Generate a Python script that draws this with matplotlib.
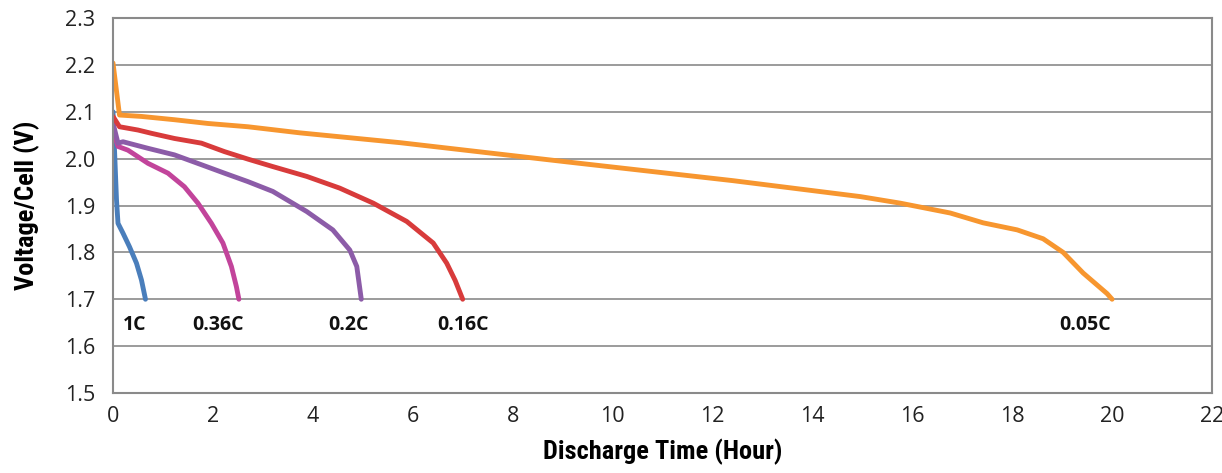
import matplotlib.pyplot as plt
from matplotlib import font_manager

# discharge curves (hours, volts per cell)
t_1c = [0.0, 0.07, 0.1, 0.2, 0.33, 0.47, 0.57, 0.65]
v_1c = [2.10, 1.912, 1.862, 1.841, 1.812, 1.777, 1.741, 1.70]

t_036c = [0.0, 0.1, 0.3, 0.7, 1.1, 1.43, 1.70, 1.97, 2.2, 2.37, 2.47, 2.52]
v_036c = [2.06, 2.026, 2.018, 1.990, 1.969, 1.940, 1.905, 1.862, 1.820, 1.770, 1.727, 1.70]

t_02c = [0.0, 0.1, 0.2, 0.7, 1.23, 1.77, 2.23, 2.70, 3.2, 3.88, 4.4, 4.74, 4.88, 4.97]
v_02c = [2.076, 2.033, 2.036, 2.022, 2.008, 1.987, 1.969, 1.951, 1.930, 1.887, 1.848, 1.805, 1.77, 1.70]

t_016c = [0.0, 0.13, 0.5, 0.77, 1.23, 1.77, 2.23, 2.70, 3.2, 3.88, 4.54, 5.21, 5.88,
          6.41, 6.68, 6.85, 7.0]
v_016c = [2.09, 2.068, 2.061, 2.054, 2.043, 2.033, 2.015, 1.999, 1.983, 1.962, 1.937, 1.905, 1.866,
          1.82, 1.777, 1.74, 1.70]

t_005c = [0.0, 0.13, 0.57, 1.23, 1.9, 2.70, 3.74, 5.75, 9.09, 12.41, 14.96, 15.76,
          16.76, 17.42, 18.1, 18.62, 19.02, 19.42, 19.9, 20.0]
v_005c = [2.204, 2.093, 2.090, 2.083, 2.075, 2.068, 2.055, 2.034, 1.993, 1.953, 1.919, 1.905,
          1.884, 1.863, 1.848, 1.829, 1.80, 1.756, 1.712, 1.70]

series_names = ["1C", "0.36C", "0.2C", "0.16C", "0.05C"]
series_t = [t_1c, t_036c, t_02c, t_016c, t_005c]
series_v = [v_1c, v_036c, v_02c, v_016c, v_005c]
series_colors = ["#4a7ebb", "#c2449b", "#8c5ca8", "#d83b3b", "#f7962f"]
label_x = [0.44, 2.1, 4.72, 7.0, 19.46]
label_y = 1.646

# narrow bold face for the axis titles, whatever is installed
title_font = None
for fam in ["Noto Sans ExtraCondensed", "Roboto Condensed", "Liberation Sans Narrow",
            "Noto Sans Condensed", "Open Sans Condensed", "DejaVu Sans Condensed"]:
    faces = [f for f in font_manager.fontManager.ttflist
             if f.name == fam and f.style == "normal" and int(f.weight) >= 700]
    if faces:
        faces.sort(key=lambda f: int(f.weight))
        title_font = font_manager.FontProperties(fname=faces[0].fname, size=19)
        print("axis titles:", fam, faces[0].fname)
        break
if title_font is None:
    title_font = font_manager.FontProperties(family="DejaVu Sans", weight="bold", size=16)

fig = plt.figure(figsize=(12.22, 4.73), dpi=100)
ax = fig.add_axes([113 / 1222, 80 / 473, 1099 / 1222, 375 / 473])

for t, v, c in zip(series_t, series_v, series_colors):
    ax.plot(t, v, color=c, linewidth=3.5, solid_capstyle="round", solid_joinstyle="round")

for name, x in zip(series_names, label_x):
    ax.text(x, label_y, name, ha="center", va="center", fontsize=14,
            fontweight="bold", family="Open Sans", color="#111111")

ax.set_xlim(0, 22)
ax.set_ylim(1.5, 2.3)
ax.set_xticks(range(0, 23, 2))
ax.set_yticks([1.5 + 0.1 * i for i in range(9)])
ax.set_yticklabels([f"{1.5 + 0.1 * i:.1f}" for i in range(9)])
ax.tick_params(axis="y", length=0, labelsize=15.5, pad=13, colors="#222222")
ax.tick_params(axis="x", length=0, labelsize=15.5, pad=9, colors="#222222")
for lbl in ax.get_xticklabels() + ax.get_yticklabels():
    lbl.set_family("Open Sans")

ax.grid(axis="y", color="#8a8a8a", linewidth=1.2)
ax.set_axisbelow(True)
for s in ax.spines.values():
    s.set_color("#8a8a8a")
    s.set_linewidth(1.5)

ax.set_xlabel("Discharge Time (Hour)", fontproperties=title_font, labelpad=9)
ax.set_ylabel("Voltage/Cell (V)", fontproperties=title_font, labelpad=18)

fig.savefig("out.png", dpi=100)
